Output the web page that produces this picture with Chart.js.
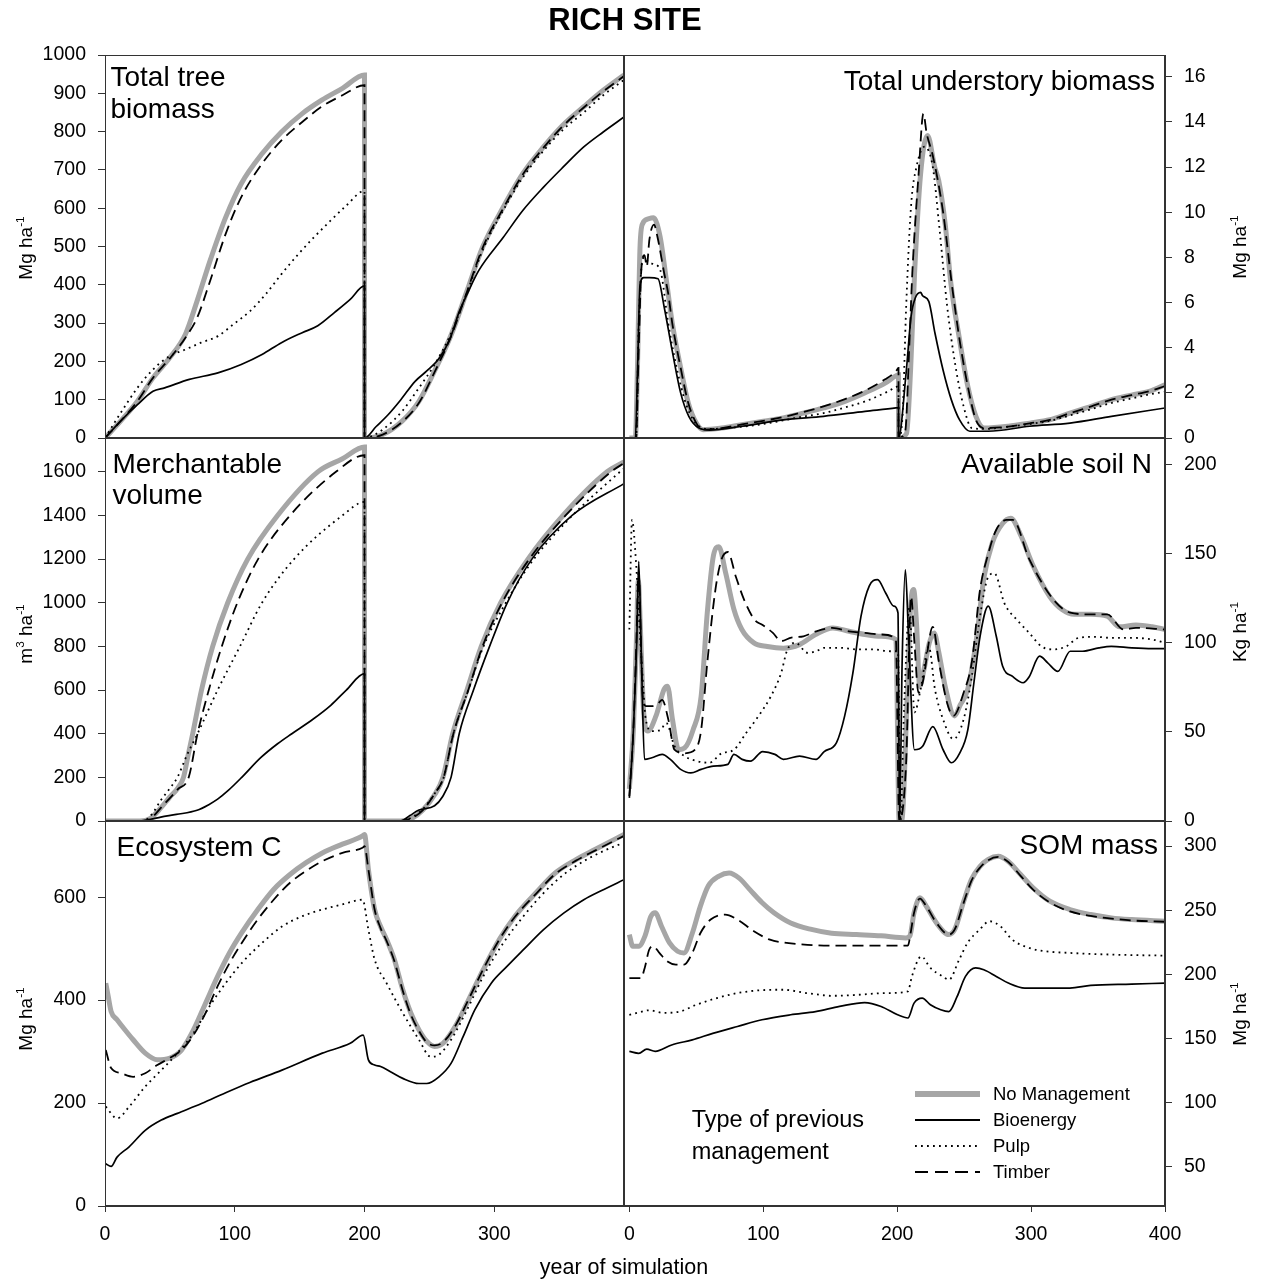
<!DOCTYPE html>
<html><head><meta charset="utf-8">
<script src="https://cdn.jsdelivr.net/npm/chart.js@4.4.1/dist/chart.umd.min.js"></script>
<style>
html,body{margin:0;padding:0;background:#fff;}
body{width:1262px;height:1287px;position:relative;overflow:hidden;font-family:'Liberation Sans',Arial,sans-serif;color:#000;}
canvas{position:absolute;left:0;top:0;}
.t{position:absolute;white-space:nowrap;line-height:1;}
.pl{font-size:28px;}
.rt{transform:translateX(-100%);}
.ax{position:absolute;white-space:nowrap;line-height:1;font-size:19px;transform:translate(-50%,-50%) rotate(-90deg);}
sup{font-size:0.62em;line-height:0;vertical-align:0.6em;}
.lg{position:absolute;white-space:nowrap;line-height:1;font-size:18.5px;left:993px;}
</style></head><body>
<canvas id="cTL" width="1262" height="1287"></canvas>
<canvas id="cTR" width="1262" height="1287"></canvas>
<canvas id="cML" width="1262" height="1287"></canvas>
<canvas id="cMR" width="1262" height="1287"></canvas>
<canvas id="cBL" width="1262" height="1287"></canvas>
<canvas id="cBR" width="1262" height="1287"></canvas>

<div class="t" style="left:625px;top:3.8px;font-size:31px;font-weight:bold;transform:translateX(-50%)">RICH SITE</div>
<div class="t" style="left:624px;top:1256.8px;font-size:21.5px;transform:translateX(-50%)">year of simulation</div>

<div class="t pl" style="left:110.5px;top:63px">Total tree</div>
<div class="t pl" style="left:110.5px;top:94.6px">biomass</div>
<div class="t pl rt" style="left:1155px;top:67px">Total understory biomass</div>
<div class="t pl" style="left:112.5px;top:449.6px">Merchantable</div>
<div class="t pl" style="left:112.5px;top:481.3px">volume</div>
<div class="t pl rt" style="left:1152px;top:449.6px">Available soil N</div>
<div class="t pl" style="left:116.5px;top:833px">Ecosystem C</div>
<div class="t pl rt" style="left:1158px;top:831.3px">SOM mass</div>

<div class="ax" style="left:25.4px;top:247.5px">Mg ha<sup>-1</sup></div>
<div class="ax" style="left:25.4px;top:634px">m<sup>3</sup> ha<sup>-1</sup></div>
<div class="ax" style="left:25.4px;top:1019px">Mg ha<sup>-1</sup></div>
<div class="ax" style="left:1239px;top:247px">Mg ha<sup>-1</sup></div>
<div class="ax" style="left:1239px;top:632px">Kg ha<sup>-1</sup></div>
<div class="ax" style="left:1239px;top:1014px">Mg ha<sup>-1</sup></div>

<div class="t" style="left:691.7px;top:1108.4px;font-size:23.5px">Type of previous</div>
<div class="t" style="left:691.7px;top:1140.1px;font-size:23.5px">management</div>
<div id="legendText"></div>

<script>
// ---------- series labels ----------
const seriesLabels = ['No Management', 'Bioenergy', 'Pulp', 'Timber'];

// ---------- tick label values ----------
const xTicksLeft = [0, 100, 200, 300];
const xTicksRight = [0, 100, 200, 300, 400];
const yTicksTree = [0, 100, 200, 300, 400, 500, 600, 700, 800, 900, 1000];
const yTicksUnder = [0, 2, 4, 6, 8, 10, 12, 14, 16];
const yTicksVol = [0, 200, 400, 600, 800, 1000, 1200, 1400, 1600];
const yTicksSoilN = [0, 50, 100, 150, 200];
const yTicksEco = [0, 200, 400, 600];
const yTicksSom = [50, 100, 150, 200, 250, 300];

// ---------- Total tree biomass [year, Mg/ha] ----------
const treeNoMgmt = [[0,0],[12,44],[25,96],[37,157],[50,210],[62,271],[71,358],[81,463],[93,576],[105,664],[121,742],[136,799],[152,847],[167,882],[183,913],[200,948],[200,0],[214,9],[229,44],[242,96],[254,175],[267,271],[279,384],[291,498],[307,603],[322,690],[338,760],[353,817],[369,865],[384,908],[400,948]];
const treeTimber = [[0,0],[12,44],[25,96],[37,157],[50,208],[62,262],[71,314],[81,410],[93,533],[105,629],[121,716],[136,777],[152,825],[167,865],[183,895],[200,921],[200,0],[214,9],[229,42],[242,92],[254,172],[267,268],[279,382],[291,496],[307,600],[322,688],[338,758],[353,815],[369,863],[384,905],[400,945]];
const treePulp = [[0,0],[12,65],[25,131],[37,179],[50,214],[62,231],[74,249],[87,266],[99,297],[112,332],[124,376],[136,428],[149,480],[161,524],[174,568],[186,607],[200,645],[200,0],[214,22],[229,70],[242,131],[254,192],[267,275],[279,380],[291,490],[307,595],[322,680],[338,750],[353,805],[369,850],[384,895],[400,935]];
const treeBio = [[0,0],[12,44],[25,87],[37,122],[46,131],[65,153],[87,170],[105,192],[121,218],[136,249],[152,275],[164,293],[177,328],[189,362],[200,397],[200,0],[209,30],[218,60],[228,100],[239,148],[248,175],[258,210],[266,260],[273,330],[279,375],[288,437],[307,524],[322,594],[338,655],[353,707],[369,760],[384,799],[400,838]];

// ---------- Total understory biomass [year, Mg/ha] ----------
const underNoMgmt = [[0,0],[4.5,0],[6,3],[8,8.5],[10,9.5],[14,9.7],[18,9.75],[23,8.9],[27.6,7.0],[32,5.1],[38,3.2],[44,1.55],[50,0.66],[55,0.37],[69,0.44],[84,0.59],[100,0.74],[115,0.89],[130,1.1],[145,1.33],[161,1.62],[176,2.0],[191,2.43],[199,2.75],[201,2.8],[201,0],[207,0.2],[210,3],[213,7.3],[217.5,11.7],[222.7,13.4],[228,12.0],[231,11.4],[236,9.4],[240,6.9],[246.6,4.35],[252.7,2.3],[258.8,0.96],[265,0.44],[283,0.52],[299,0.66],[314,0.81],[329,1.1],[345,1.4],[360,1.7],[375,1.9],[390,2.1],[400,2.36]];
const underTimber = [[0,0],[5,0],[7,4],[9,7.5],[11.3,8.1],[13,7.6],[15,8.8],[18.4,9.45],[21,8.9],[26,7.3],[29,6.4],[32,5.1],[38,3.2],[44,1.55],[50,0.66],[55,0.37],[69,0.44],[84,0.6],[100,0.76],[115,0.93],[130,1.15],[145,1.4],[161,1.72],[176,2.1],[191,2.6],[199,2.95],[201,3.1],[201,0],[206,0.3],[209,4],[211.3,7.3],[216,11.7],[219.6,14.36],[222,13.5],[226.6,12.5],[234.3,10],[240.4,7.0],[246.6,4.35],[252.7,2.3],[258.8,0.8],[265,0.44],[283,0.5],[299,0.65],[314,0.8],[329,1.1],[345,1.4],[360,1.7],[375,1.9],[390,2.1],[400,2.3]];
const underPulp = [[0,0],[5,0],[7,5],[9.5,7.8],[11.3,8.0],[14,7.8],[18,7.7],[23,7.45],[29,5.1],[35,3.2],[42.9,1.4],[52,0.52],[60,0.4],[84,0.5],[100,0.62],[115,0.78],[130,0.95],[145,1.1],[161,1.35],[176,1.62],[191,2.0],[199,2.25],[201,2.3],[201,0],[204,1],[206.7,5.8],[210.4,10.3],[214.4,12.0],[220.5,12.9],[226.6,12.0],[231.2,9.5],[237.4,5.8],[243.5,3.2],[249.6,1.4],[255.7,0.44],[265,0.4],[283,0.5],[299,0.62],[314,0.76],[329,1.0],[345,1.28],[360,1.55],[375,1.75],[390,1.95],[400,2.05]];
const underBio = [[0,0],[4.5,0],[6.1,3],[8,6.8],[10.7,7.1],[15,7.1],[21.4,7.05],[26,5.8],[32.2,3.8],[38.3,2.0],[44.4,0.96],[52,0.44],[60,0.35],[84,0.52],[115,0.8],[145,0.96],[176,1.18],[199,1.33],[201,1.35],[201,0],[206.7,2.9],[210.4,5.4],[213.5,6.2],[217.5,6.45],[219,6.3],[223.6,6.05],[228.2,4.65],[234.3,3.0],[240.4,1.7],[246.6,0.8],[254.2,0.3],[268,0.3],[299,0.52],[329,0.66],[360,0.96],[400,1.33]];

// ---------- Merchantable volume [year, m3/ha] ----------
const volNoMgmt = [[0,0],[27,0],[35,12],[43,60],[50,110],[56,150],[60.5,200],[64,300],[67.6,400],[74.4,600],[83,800],[94.6,1000],[110,1200],[133,1400],[164,1600],[183,1660],[200,1714],[200,0],[228,0],[236,10],[245,50],[254,120],[260.5,200],[268,400],[279,600],[290,800],[305,1000],[326,1200],[353,1400],[387,1600],[400,1646]];
const volTimber = [[0,0],[30,0],[36,15],[43,60],[50,105],[56,145],[64.5,200],[71.3,400],[80,600],[90,800],[102,1000],[118,1200],[142.6,1400],[178,1600],[200,1676],[200,0],[228,0],[236,12],[245,50],[254,125],[261,200],[268.5,400],[280,600],[291,800],[306,1000],[327,1200],[355,1400],[390,1600],[400,1640]];
const volPulp = [[0,0],[29,0],[36,30],[43,95],[50,150],[55.8,200],[63,300],[71.3,400],[86.8,600],[104,800],[121,1000],[145.7,1200],[183,1400],[200,1462],[200,0],[228,0],[236,15],[245,55],[254,125],[261,200],[268.5,400],[280,600],[291,790],[307,980],[328,1180],[357,1380],[395,1590],[400,1615]];
const volBio = [[0,0],[25,0],[35,8],[43,18],[55,30],[71,49],[80,75],[86.8,100],[95,140],[105.4,200],[120,290],[133,354],[144,400],[160,465],[174,530],[186,600],[200,675],[200,0],[228,0],[235,25],[242,50],[254,70],[260,110],[266.7,200],[273,400],[284,600],[296.4,800],[310,1000],[329,1200],[360,1400],[400,1546]];

// ---------- Available soil N [year, kg/ha] ----------
const soilNNoMgmt = [[0,18],[3,51],[5.2,100],[6.7,135],[8.3,107],[10.7,61],[13.8,50.5],[19.9,59],[26,74],[28.5,75.7],[32.2,57],[36.8,40],[41.3,41],[47.5,51],[53.6,70],[58.2,117],[62.8,149],[66.8,154],[72,139],[78,119],[84,107.5],[93,100],[103,98],[115,97],[127,99],[139,104.7],[152,108.4],[164,106.5],[176,104.7],[188,103.7],[199,101.9],[201.5,0],[203.7,1],[207,60],[210,120],[212.3,130],[214.5,110],[216.8,75.7],[220,85],[224,100],[227.6,105.6],[231,95],[236,75],[242.9,59],[247,65],[252.7,74],[258.8,100],[264.9,137],[271,156],[278.7,167],[284.8,170],[292.5,160],[301.7,143],[313.9,126],[323.1,118.7],[332.3,116],[344.6,116],[356.8,115],[366,109],[378.3,110],[390.5,109],[400,107.5]];
const soilNTimber = [[0,14],[3,51],[5.2,100],[7,140],[8.3,110],[10,70],[12.3,64.5],[16.8,64.5],[21.4,66],[24.5,68],[29.1,57],[33.7,40],[41.3,38],[49,40],[53.6,51],[58.2,89],[64.3,130],[68.9,147],[73.5,151],[79.6,137],[85.8,124],[93.4,113],[99.5,110],[107.2,105.6],[113.3,101],[121,103],[130,103.7],[139.4,106.5],[151.6,108.4],[164,106.5],[176,105.6],[188.4,104.7],[199,101.9],[201.5,0],[206.7,33],[210.4,126],[212.9,100],[215.9,72],[219,77.6],[226.6,109],[231.2,89],[237.4,66],[242,59],[249.6,72],[255.7,89],[261.9,130],[268,150],[274,163.5],[281.8,169],[286.4,169],[298.6,147],[317,124],[329.2,117],[344.6,116],[356.8,116],[369.1,107.5],[378.3,108.4],[400,107.5]];
const soilNPulp = [[0,107.5],[2,169],[5,145],[7.5,110],[9.2,89],[12.3,57],[16.8,50.5],[23,51],[27.6,55],[33.7,42],[41.3,36.4],[50.5,33.6],[59.7,32.7],[68.9,38],[78.1,40],[87.3,49.5],[96.5,59],[105.7,70],[113.3,83],[117.9,96],[124,100],[133.2,94.4],[139.4,95.3],[145.5,97.2],[157.7,97.2],[170,96.3],[182.2,96.3],[194.5,95.3],[200.6,95.3],[202.5,0],[205,60],[209.2,120],[212.9,61],[217.5,74],[223.6,98],[228.2,74],[234.3,57],[242,46],[249.6,57],[255.7,81],[261.9,115],[268,137],[272.6,139],[280.2,122],[289.4,113],[298.6,105.6],[307.8,98],[317,96.3],[326.2,98],[335.4,102.8],[347.6,103.4],[359.9,102.8],[375.2,102.8],[390.5,101.9],[400,100]];
const soilNBio = [[0,13],[3,51],[5.5,100],[7,145.8],[9.2,85],[11.3,34.6],[16.8,35.5],[24.5,37.4],[30.6,34.6],[38.3,29],[45.9,27],[53.6,29],[62.8,30.8],[73.5,31.8],[78.1,37.4],[84.2,34.6],[90.4,33.6],[99.5,39],[108.7,37.4],[114.9,34.6],[127.1,36.4],[139.4,34.6],[145.5,39],[154.7,44],[160.8,59],[166.9,83],[173,115],[179.2,132],[185.3,135.5],[191.4,128],[197.5,120.6],[200.6,116.8],[201.8,0],[203.7,89],[206.1,141],[208.3,107.5],[212.9,40],[219,42],[226.6,53],[234.3,40],[240.4,32.7],[246.6,38],[252.7,51],[257.3,77.6],[261.9,103.7],[268,120.6],[274,103.7],[278.7,87],[286.4,81],[294,77.6],[298.6,81],[306.3,92.5],[312.4,88.8],[320,84],[329.2,95.3],[338.4,95.3],[350.7,97.2],[359.9,98],[375.2,97.2],[390.5,96.8],[400,96.8]];

// ---------- Ecosystem C [year, Mg/ha] ----------
const ecoNoMgmt = [[0.6,433],[2.5,407],[4.7,378],[9.3,362],[15.5,342],[21.7,323],[31,297],[40.3,284],[49.6,287],[59,303],[68.2,342],[77.5,394],[86.8,446],[96,492],[105.4,531],[117.8,576],[130,615],[142.6,644],[155,667],[167.5,686],[183,703],[198.5,719],[200,722],[203,654],[207.8,576],[212.4,543],[217,518],[223,479],[229.5,420],[235.7,375],[242,342],[248,320],[254,310],[260.5,316],[270,349],[279,394],[291.5,459],[304,518],[316,563],[332,608],[347,647],[363,673],[378,693],[400,722]];
const ecoTimber = [[0.6,303],[4.7,268],[12.4,258],[21.7,251],[31,258],[40.3,274],[49.6,287],[59,303],[68.2,332],[77.5,375],[86.8,427],[96,472],[105.4,511],[117.8,557],[130,595],[142.6,628],[155,651],[167.5,670],[183,686],[198.5,696],[200,699],[203,654],[207.8,576],[212.4,540],[217,515],[223,476],[229.5,418],[235.7,372],[242,340],[248,318],[254,312],[260.5,318],[270,350],[279,395],[291.5,460],[304,518],[316,562],[332,606],[347,645],[363,671],[378,691],[400,719]];
const ecoPulp = [[0.6,193],[9.3,170],[18.6,193],[31,232],[43.4,264],[55.8,297],[68.2,336],[80.6,388],[93,433],[105.4,472],[121,511],[136.4,543],[152,563],[167.5,576],[183,586],[198.5,595],[203,537],[207.8,479],[217,433],[229.5,375],[242,323],[251,290],[257.4,294],[266.7,323],[279,381],[291.5,446],[307,511],[322.5,563],[338,608],[353.5,644],[369,670],[384.5,690],[400,706]];
const ecoBio = [[0.6,82],[4.7,77],[9.3,95],[18.6,115],[31,147],[43.4,167],[55.8,180],[74.4,199],[93,220],[111.6,240],[136.4,264],[167.5,297],[189,316],[199,332],[203,284],[207.8,274],[212.4,271],[220,261],[229.5,248],[242,238],[248,238],[257.4,251],[266.7,277],[276,329],[285,381],[297.7,433],[310,466],[322.5,498],[338,537],[353.5,569],[369,595],[384.5,615],[400,634]];

// ---------- SOM mass [year, Mg/ha] ----------
const somNoMgmt = [[0,231],[2.5,222],[7,222],[11.7,230],[16,245],[19.3,248],[24,237.5],[30,224.5],[36,218],[40.8,216.7],[47,232],[53,253],[59,269],[67,276.6],[74.5,279],[82,275],[90,266],[99,256],[108,248],[120.5,240],[136,235],[151,232],[169.6,231],[188,230],[206.4,228.4],[209.5,230],[212.6,248],[217,259.6],[221.8,253],[229.4,240],[238.6,231],[243,235],[249.4,256],[255.5,274],[261.7,284],[268,289.6],[275.5,292],[283,288],[292,278],[301.5,267.4],[314,257],[329,250.5],[344.5,246.6],[360,244],[375,242.7],[400,241.4]];
const somTimber = [[0,197],[8.6,197],[11.7,206],[14.7,219],[17.8,222],[22.4,216.7],[28.5,210],[34.7,207.6],[40.8,207.6],[47,216.7],[53,232],[60.7,242.7],[71.5,246.6],[80.7,242.7],[93,233.6],[105,227],[117.5,224.5],[133,223],[157,222.4],[182,222.4],[208,222.4],[210,232],[212.6,248],[217,259],[221.8,253],[229.4,240],[238.6,231],[243,235],[249.4,255],[255.5,273],[261.7,283],[268,289],[275.5,291.5],[283,287.5],[292,277],[301.5,266],[314,256],[329,249],[344.5,245.5],[360,243.5],[375,242],[400,241]];
const somPulp = [[0,168.5],[7,170.3],[14.7,172],[25.5,170],[37.7,171],[50,176.3],[65.3,181.5],[80.7,185.4],[96,187.5],[114.4,188],[133,185.4],[151,183.3],[169.6,184],[191,185.4],[208,186.7],[211,198.4],[218,214],[224.8,205],[234,198.4],[238.6,195.8],[246.3,211.5],[252.5,224.5],[261.7,235],[269,241.4],[277,237.5],[286,227],[298.5,220.6],[310.7,218],[329,216.7],[360,215.4],[400,214.6]];
const somBio = [[0,140],[7,138.5],[13,141.7],[19.3,140],[31.6,145],[47,149],[62.3,154],[80.7,159.4],[99,164.6],[120.5,168.5],[139,171],[157,175],[175.7,178],[188,175],[200.3,168.5],[208,166],[212.6,177.6],[218.7,181.5],[224.8,176.3],[232.5,172.4],[238.6,171],[244.8,182.8],[251,198.4],[258.6,205],[264.7,203.6],[274,198.4],[283,193.2],[295.4,189.3],[307.7,189.3],[329,189.3],[344.5,191.4],[375,192.4],[400,193.2]];

// ---------- styling ----------
Chart.defaults.font.family = "'Liberation Sans', Arial, sans-serif";
Chart.defaults.font.size = 19.5;
Chart.defaults.color = '#000';

const STY = [
  {borderColor:'#a6a6a6', borderWidth:5, borderDash:[], legendWidth:6},
  {borderColor:'#000', borderWidth:1.7, borderDash:[], legendWidth:1.8},
  {borderColor:'#000', borderWidth:1.8, borderDash:[1.8,4.2], legendWidth:1.8},
  {borderColor:'#000', borderWidth:1.8, borderDash:[11,6], legendWidth:1.8, legendDash:[13,7]}
];
const W = 1262, H = 1287, YW = 70, XH = 40;
const ROWS = [[55,438],[438,821],[821,1206]];
const COLS = {left:[105,624], right:[624,1165]};

function pts(a){ return a.map(p => ({x:p[0], y:p[1]})); }

const framePlugin = {
  id:'frame',
  afterDatasetsDraw(chart){
    const {ctx, chartArea:a} = chart;
    ctx.save();
    ctx.strokeStyle = '#333'; ctx.lineWidth = 1; ctx.setLineDash([]);
    ctx.strokeRect(Math.round(a.left)+0.5, Math.round(a.top)+0.5, Math.round(a.right-a.left)-1, Math.round(a.bottom-a.top)-1);
    ctx.restore();
  }
};

const legendRows = [1094, 1120, 1146, 1172];
const legendPlugin = {
  id:'legendSamples',
  afterDraw(chart){
    const ctx = chart.ctx;
    ctx.save();
    STY.forEach((s,i) => {
      ctx.beginPath();
      ctx.strokeStyle = s.borderColor;
      ctx.lineWidth = s.legendWidth;
      ctx.setLineDash(s.legendDash || s.borderDash);
      ctx.moveTo(915, legendRows[i]);
      ctx.lineTo(980, legendRows[i]);
      ctx.stroke();
    });
    ctx.restore();
  }
};

function makePanel(id, side, row, yMin, yMax, yTicks, series, extraPlugins){
  const xr = side === 'left' ? [0,400] : [-4,400];
  const xt = side === 'left' ? xTicksLeft : xTicksRight;
  const col = COLS[side];
  const showX = row === 2;
  const pad = {
    left: side === 'left' ? col[0] - YW : col[0],
    right: side === 'left' ? W - col[1] : W - col[1] - YW,
    top: ROWS[row][0],
    bottom: showX ? H - ROWS[row][1] - XH : H - ROWS[row][1]
  };
  // draw order: gray (No Management) underneath
  const order = [1,2,3,0];
  const datasets = order.map(i => ({
    label: seriesLabels[i],
    data: pts(series[i]),
    borderColor: STY[i].borderColor,
    borderWidth: STY[i].borderWidth,
    borderDash: STY[i].borderDash,
    pointRadius: 0,
    fill: false,
    cubicInterpolationMode: 'monotone'
  }));
  return new Chart(document.getElementById(id), {
    type:'line',
    data:{datasets},
    options:{
      responsive:false, animation:false, devicePixelRatio:1,
      layout:{padding:pad},
      plugins:{legend:{display:false}, tooltip:{enabled:false}, title:{display:false}},
      scales:{
        x:{
          type:'linear', min:xr[0], max:xr[1], position:'bottom', display: showX,
          afterBuildTicks: ax => { ax.ticks = xt.map(v => ({value:v})); },
          afterFit: ax => { ax.height = showX ? XH : 0; },
          grid:{drawOnChartArea:false, drawTicks:true, tickLength:6, color:'#333', lineWidth:1},
          border:{display:true, color:'#333', width:1},
          ticks:{padding:11, maxRotation:0, autoSkip:false, color:'#000', callback: v => String(v)}
        },
        y:{
          type:'linear', min:yMin, max:yMax, position: side,
          afterBuildTicks: ax => { ax.ticks = yTicks.map(v => ({value:v})); },
          afterFit: ax => { ax.width = YW; },
          grid:{drawOnChartArea:false, drawTicks:true, tickLength:7, color:'#333', lineWidth:1},
          border:{display:true, color:'#333', width:1},
          ticks:{padding:12, autoSkip:false, color:'#000', callback: v => String(v)}
        }
      }
    },
    plugins:[framePlugin].concat(extraPlugins || [])
  });
}

makePanel('cTL','left',0,0,1000,yTicksTree,[treeNoMgmt,treeBio,treePulp,treeTimber]);
makePanel('cTR','right',0,0,16.96,yTicksUnder,[underNoMgmt,underBio,underPulp,underTimber]);
makePanel('cML','left',1,0,1755,yTicksVol,[volNoMgmt,volBio,volPulp,volTimber]);
makePanel('cMR','right',1,0,215,yTicksSoilN,[soilNNoMgmt,soilNBio,soilNPulp,soilNTimber]);
makePanel('cBL','left',2,0,748,yTicksEco,[ecoNoMgmt,ecoBio,ecoPulp,ecoTimber]);
makePanel('cBR','right',2,19.5,319.5,yTicksSom,[somNoMgmt,somBio,somPulp,somTimber],[legendPlugin]);

// legend labels as text
const lt = document.getElementById('legendText');
seriesLabels.forEach((lab,i) => {
  const d = document.createElement('div');
  d.className = 'lg';
  d.style.top = (legendRows[i] - 9) + 'px';
  d.textContent = lab;
  lt.appendChild(d);
});
</script>
</body></html>
